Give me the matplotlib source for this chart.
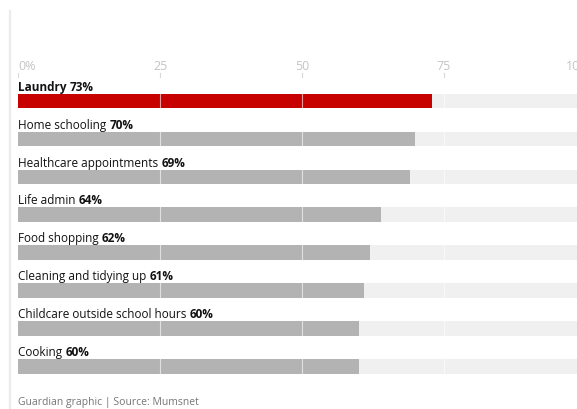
import matplotlib
matplotlib.use("Agg")
import matplotlib.pyplot as plt

categories = ["Laundry", "Home schooling", "Healthcare appointments", "Life admin",
              "Food shopping", "Cleaning and tidying up", "Childcare outside school hours", "Cooking"]
values = [73, 70, 69, 64, 62, 61, 60, 60]
tick_values = [0, 25, 50, 75, 100]
tick_labels = ["0%", "25", "50", "75", "100"]
source = "Guardian graphic | Source: Mumsnet"

W, H = 577, 409
plt.rcParams['font.family'] = ['Open Sans', 'DejaVu Sans']
fig = plt.figure(figsize=(W / 100, H / 100), dpi=100)
fig.patch.set_facecolor("white")

# left decorative line
fig.add_artist(plt.Line2D([10 / W, 10 / W], [0, 1 - 11 / H], color="#ececec", lw=1.6))

x0 = 18.3
scale = 5.672
ax = fig.add_axes([x0 / W, 0, 1 - x0 / W, 1])
ax.set_xlim(0, (W - x0) / scale)
ax.set_ylim(H, 0)
ax.axis("off")

row0 = 101
step = 37.9
bh = 14.5
for i, (c, v) in enumerate(zip(categories, values)):
    yc = row0 + i * step
    ax.barh(yc, 100, height=bh, color="#f0f0f0", zorder=1)
    col = "#c70000" if i == 0 else "#b3b3b3"
    ax.barh(yc, v, height=bh, color=col, zorder=2)
    for t in tick_values[1:4]:
        ax.plot([t, t], [yc - bh / 2, yc + bh / 2], color="white", lw=0.8, alpha=0.6, zorder=3)
    ty = yc - bh / 2 - 3
    w1 = "bold" if i == 0 else "normal"
    t1 = ax.text(0, ty, c + " ", fontsize=8.5, fontweight=w1, color="#121212", va="baseline", ha="left")
    ax.annotate(f"{v}%", xy=(1, 0), xycoords=t1, fontsize=8.5, fontweight="bold",
                color="#121212", va="bottom", ha="left")

for t, lab in zip(tick_values, tick_labels):
    if t == 0:
        ax.text(t, 70, lab, fontsize=9, color="#c4c4c4", ha="left", va="baseline")
    elif t == 100:
        ax.text((566 - x0) / scale, 70, lab, fontsize=9, color="#c4c4c4", ha="left", va="baseline",
                clip_on=True)
    else:
        ax.text(t, 70, lab, fontsize=9, color="#c4c4c4", ha="center", va="baseline")
    if t < 100:
        ax.plot([t, t], [73, 77], color="#d8d8d8", lw=0.8)

ax.text(0, 405, source, fontsize=7.5, color="#767676", ha="left", va="baseline")

fig.savefig("out.png", dpi=100, facecolor="white")
